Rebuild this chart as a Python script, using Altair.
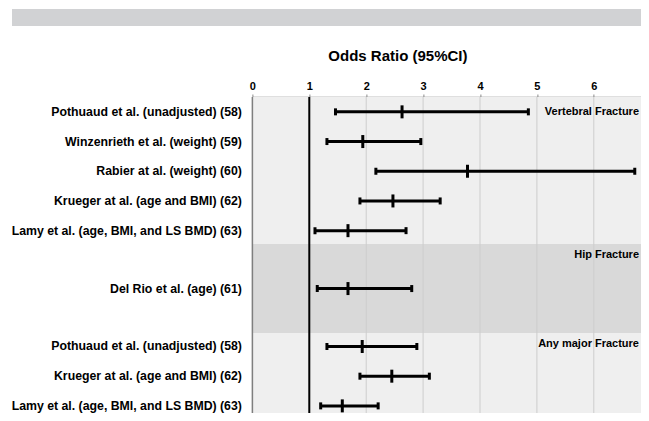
import altair as alt
import pandas as pd

# ---- data ----
studies = [
    "Pothuaud et al. (unadjusted) (58)",
    "Winzenrieth et al. (weight) (59)",
    "Rabier at al. (weight) (60)",
    "Krueger at al. (age and BMI) (62)",
    "Lamy et al. (age, BMI, and LS BMD) (63)",
    "Del Rio et al. (age) (61)",
    "Pothuaud et al. (unadjusted) (58)",
    "Krueger at al. (age and BMI) (62)",
    "Lamy et al. (age, BMI, and LS BMD) (63)",
]
row_pos = [0, 1, 2, 3, 4, 5.95, 7.9, 8.9, 9.9]
or_est = [2.63, 1.94, 3.78, 2.47, 1.68, 1.68, 1.93, 2.45, 1.58]
ci_low = [1.46, 1.31, 2.17, 1.89, 1.10, 1.14, 1.31, 1.89, 1.20]
ci_high = [4.85, 2.96, 6.72, 3.30, 2.70, 2.80, 2.89, 3.11, 2.21]

sections = ["Vertebral Fracture", "Hip Fracture", "Any major Fracture"]
sec_start = [-0.5, 4.45, 7.45]
sec_end = [4.45, 7.45, 11]
sec_label_pos = [0, 4.83, 7.8]

tick_values = [0, 1, 2, 3, 4, 5, 6]
reference_or = [1]

# ---- tables ----
df = pd.DataFrame({"study": studies, "pos": row_pos, "or": or_est,
                   "lo": ci_low, "hi": ci_high})
sec_df = pd.DataFrame({"section": sections, "start": sec_start,
                       "end": sec_end, "lab": sec_label_pos})
grid_df = pd.DataFrame({"v": tick_values})
ref_df = pd.DataFrame({"v": reference_or})

# visible plot area (the page cuts the panel at its right and bottom edges)
W = 388.6
H = 316
XR = 398.3          # pixel length of 0..7
YR = 11.5 * 29.7    # pixel length of the row domain
FONT = "Liberation Sans"

xs = alt.Scale(domain=[0, 7], range=[0, XR], nice=False, zero=False)
ys = alt.Scale(domain=[-0.5, 11], range=[0, YR], nice=False, zero=False)

x_axis = alt.Axis(orient="top", values=tick_values, grid=False, format="d",
                  labelFont=FONT, labelFontWeight="bold", labelFontSize=11,
                  labelColor="#000000", labelPadding=3, labelFlush=False,
                  labelOverlap=False, labelBound=False,
                  tickSize=3, tickColor="#8a8a8a", tickWidth=1,
                  domainColor="#7f7f7f", domainWidth=1.5,
                  title="Odds Ratio (95%CI)", titleFont=FONT,
                  titleFontSize=15, titleFontWeight="bold", titleColor="#000000",
                  titleX=145, titleY=-42, titleAlign="center",
                  titleBaseline="middle", titleAngle=0)

bands = alt.Chart(sec_df).mark_rect().encode(
    x=alt.datum(0, scale=xs, axis=x_axis),
    x2=alt.datum(7),
    y=alt.Y("start:Q", scale=ys, axis=None),
    y2="end:Q",
    color=alt.Color("section:N", legend=None,
                    scale=alt.Scale(domain=sections,
                                    range=["#efefef", "#d9d9d9", "#efefef"])),
)

grid = alt.Chart(grid_df).mark_rule(color="#cdcdcd", strokeWidth=1).encode(
    x=alt.X("v:Q", scale=xs),
    y=alt.value(0), y2=alt.value(YR),
)

left_border = alt.Chart(grid_df.head(1)).mark_rule(
    color="#7f7f7f", strokeWidth=1.5).encode(
    x=alt.X("v:Q", scale=xs),
    y=alt.value(0), y2=alt.value(YR),
)

ref = alt.Chart(ref_df).mark_rule(color="#000000", strokeWidth=2).encode(
    x=alt.X("v:Q", scale=xs),
    y=alt.value(0), y2=alt.value(YR),
)

ci = alt.Chart(df).mark_rule(color="#000000", strokeWidth=3).encode(
    x=alt.X("lo:Q", scale=xs), x2="hi:Q",
    y=alt.Y("pos:Q", scale=ys),
)
cap_lo = alt.Chart(df).mark_tick(color="#000000", thickness=3, size=7,
                                 orient="vertical", opacity=1).encode(
    x=alt.X("lo:Q", scale=xs), y=alt.Y("pos:Q", scale=ys))
cap_hi = alt.Chart(df).mark_tick(color="#000000", thickness=3, size=7,
                                 orient="vertical", opacity=1).encode(
    x=alt.X("hi:Q", scale=xs), y=alt.Y("pos:Q", scale=ys))
point = alt.Chart(df).mark_tick(color="#000000", thickness=3, size=13,
                                orient="vertical", opacity=1).encode(
    x=alt.X("or:Q", scale=xs), y=alt.Y("pos:Q", scale=ys))

labels = alt.Chart(df).mark_text(align="right", baseline="middle", font=FONT,
                                 fontSize=12.3, fontWeight="bold",
                                 color="#000000").encode(
    x=alt.value(-10.5), y=alt.Y("pos:Q", scale=ys), text="study:N")

sec_labels = alt.Chart(sec_df).mark_text(align="right", baseline="middle",
                                         font=FONT, fontSize=11,
                                         fontWeight="bold",
                                         color="#000000").encode(
    x=alt.value(W - 2), y=alt.Y("lab:Q", scale=ys), text="section:N")

top_bar = alt.Chart(sec_df.head(1)).mark_rect(color="#d1d2d4").encode(
    x=alt.value(-240.4), x2=alt.value(XR + 10),
    y=alt.value(-88), y2=alt.value(-71),
)

chart = alt.layer(
    bands, grid, ref, ci, cap_lo, cap_hi, point, labels, sec_labels,
    left_border, top_bar
).properties(
    width=W, height=H,
    autosize=alt.AutoSizeParams(type="none"),
    padding={"left": 244.4, "top": 89, "right": 0, "bottom": 0},
).configure_view(
    stroke=None
).configure(
    font=FONT
)

chart.save("out.html", embed_options={"renderer": "svg", "actions": False})
